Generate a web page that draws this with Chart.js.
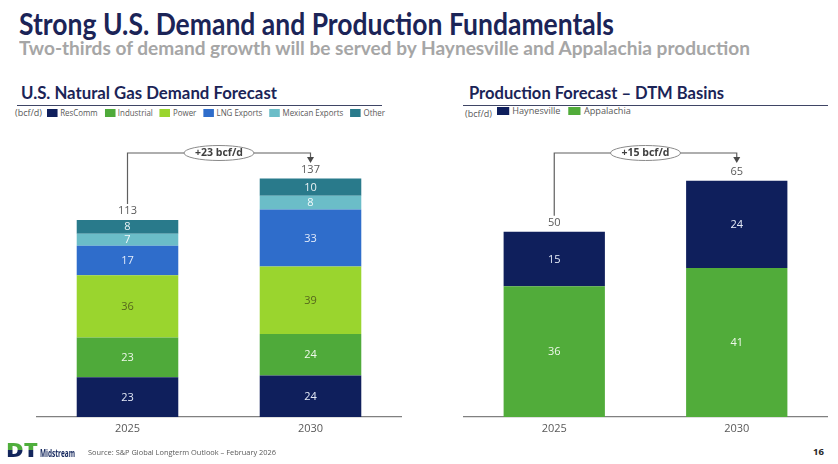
<!DOCTYPE html>
<html><head><meta charset="utf-8">
<script src="https://cdn.jsdelivr.net/npm/chart.js@4.4.1/dist/chart.umd.min.js"></script>
<style>
html,body{margin:0;padding:0;background:#fff;width:838px;height:464px;overflow:hidden;font-family:"Open Sans",sans-serif;}
.abs{position:absolute;white-space:nowrap;transform-origin:0 50%;}
.hd{font-family:Lato,"Open Sans",sans-serif;}
.legend{display:flex;align-items:center;color:#595959;font-size:9px;line-height:12px;}
.legend .sw{display:inline-block;width:12px;height:8px;margin-right:3px;}
.legend .it{display:flex;align-items:center;margin-right:8px;}
.rule{position:absolute;height:1.5px;background:#3f4565;}
.chartbox{position:absolute;}
</style></head><body>

<div class="abs fit hd" data-w="595" style="left:19px;top:6px;font-size:30px;line-height:34px;font-weight:700;color:#1b2457;">Strong U.S. Demand and Production Fundamentals</div>
<div class="abs fit hd" data-w="731" style="left:19px;top:37px;font-size:18.5px;line-height:22px;font-weight:700;color:#a6a6a6;">Two-thirds of demand growth will be served by Haynesville and Appalachia production</div>

<div class="abs fit hd" data-w="256" style="left:21px;top:82.5px;font-size:16.5px;line-height:20px;font-weight:700;color:#1b2457;">U.S. Natural Gas Demand Forecast</div>
<div class="abs fit hd" data-w="255" style="left:469px;top:82.5px;font-size:16.5px;line-height:20px;font-weight:700;color:#1b2457;">Production Forecast – DTM Basins</div>
<div class="rule" style="left:17px;top:104.5px;width:365px;"></div>
<div class="rule" style="left:463px;top:104.5px;width:365px;"></div>

<div class="abs" style="left:15px;top:107px;font-size:9px;line-height:12px;color:#595959;">(bcf/d)</div>
<div id="legendL" class="abs legend fit" data-w="345" style="left:47px;top:107px;"></div>
<div class="abs" style="left:465px;top:108px;font-size:9px;line-height:12px;color:#595959;">(bcf/d)</div>
<div id="legendR" class="abs legend fit" data-w="142" style="left:497px;top:104.5px;"></div>

<div class="chartbox" style="left:36px;top:130px;width:366px;height:315px;"><canvas id="c1"></canvas></div>
<div class="chartbox" style="left:463px;top:130px;width:365px;height:315px;"><canvas id="c2"></canvas></div>

<div class="abs fit" data-w="32" style="left:6px;top:442px;font-size:19px;line-height:16px;height:16px;font-weight:800;background:linear-gradient(to bottom,#4fae3c 0,#4fae3c 52%,#13265c 52%,#13265c 100%);-webkit-background-clip:text;background-clip:text;color:transparent;">DT</div>
<div class="abs fit" data-w="35" style="left:40px;top:447px;font-size:10px;line-height:12px;font-weight:700;color:#13265c;">Midstream</div>
<div class="abs fit" data-w="188" style="left:88px;top:446px;font-size:7.5px;line-height:12px;color:#595959;">Source: S&amp;P Global Longterm Outlook – February 2026</div>
<div class="abs" style="left:813px;top:446px;font-size:9.5px;line-height:12px;font-weight:700;color:#262626;">16</div>

<script>
// ---------- DATA ----------
const demandYears = ['2025', '2030'];
const demandSeries = ['ResComm', 'Industrial', 'Power', 'LNG Exports', 'Mexican Exports', 'Other'];
const resComm = [23, 24];
const industrial = [23, 24];
const power = [36, 39];
const lngExports = [17, 33];
const mexicanExports = [7, 8];
const otherDemand = [8, 10];
const demandTotals = [113, 137];
const demandGrowthLabel = '+23 bcf/d';

const productionYears = ['2025', '2030'];
const productionSeries = ['Haynesville', 'Appalachia'];
const haynesville = [15, 24];
const appalachia = [36, 41];
const productionTotals = [50, 65];
const productionGrowthLabel = '+15 bcf/d';

// ---------- STYLE ----------
const demandColors = ['#0f1f5c', '#4faa3a', '#9ad52e', '#2f6dcb', '#6bbdc8', '#297a8b'];
const demandLabelColors = ['#e3e9f6', '#eef8ea', '#55661c', '#e3ecfa', '#f2fafb', '#eaf3f5'];
const productionColors = ['#0f1f5c', '#51ac3a'];
const productionLabelColors = ['#e8edf8', '#eef8ea'];

function buildLegend(id, names, colors) {
  const el = document.getElementById(id);
  names.forEach((n, i) => {
    const it = document.createElement('span');
    it.className = 'it';
    const sw = document.createElement('span');
    sw.className = 'sw';
    sw.style.background = colors[i];
    it.appendChild(sw);
    it.appendChild(document.createTextNode(n));
    el.appendChild(it);
  });
}
buildLegend('legendL', demandSeries, demandColors);
buildLegend('legendR', productionSeries, productionColors);

const labelPlugin = {
  id: 'stackLabels',
  afterDatasetsDraw(chart, args, opts) {
    const ctx = chart.ctx;
    const xs = chart.scales.x;
    ctx.save();
    ctx.textAlign = 'center';
    ctx.textBaseline = 'middle';
    ctx.font = '11px "Open Sans"';
    chart.data.datasets.forEach((ds, i) => {
      const meta = chart.getDatasetMeta(i);
      meta.data.forEach((el, j) => {
        ctx.fillStyle = ds.labelColor;
        ctx.fillText(String(ds.data[j]), el.x, (el.y + el.base) / 2 + 0.5);
      });
    });
    const topMeta = chart.getDatasetMeta(chart.data.datasets.length - 1);
    ctx.fillStyle = '#595959';
    opts.totals.forEach((t, j) => {
      const el = topMeta.data[j];
      ctx.fillText(String(t), el.x, el.y - 9);
    });
    // growth connector
    const x0 = xs.getPixelForValue(0), x1 = xs.getPixelForValue(1);
    const top0 = topMeta.data[0].y;
    const lineY = chart.chartArea.top + 23;
    const tip = lineY + 10;
    ctx.strokeStyle = '#5f5f5f';
    ctx.lineWidth = 1.2;
    ctx.beginPath();
    ctx.moveTo(x0, top0 - 16);
    ctx.lineTo(x0, lineY);
    ctx.lineTo(x1, lineY);
    ctx.lineTo(x1, tip - 4);
    ctx.stroke();
    ctx.fillStyle = '#4a4a4a';
    ctx.beginPath();
    ctx.moveTo(x1 - 3.5, tip - 6);
    ctx.lineTo(x1 + 3.5, tip - 6);
    ctx.lineTo(x1, tip);
    ctx.closePath();
    ctx.fill();
    const cx = (x0 + x1) / 2;
    ctx.beginPath();
    ctx.ellipse(cx, lineY, 35, 7.5, 0, 0, Math.PI * 2);
    ctx.fillStyle = '#ffffff';
    ctx.fill();
    ctx.strokeStyle = '#8a8a8a';
    ctx.lineWidth = 1;
    ctx.stroke();
    ctx.font = 'bold 10.5px "Open Sans"';
    ctx.fillStyle = '#404040';
    ctx.fillText(opts.label, cx, lineY + 0.5);
    ctx.restore();
  }
};

function makeChart(id, labels, datasets, yMax, totals, growthLabel) {
  return new Chart(document.getElementById(id), {
    type: 'bar',
    data: { labels, datasets },
    plugins: [labelPlugin],
    options: {
      responsive: true,
      maintainAspectRatio: false,
      animation: false,
      layout: { padding: 0 },
      datasets: { bar: { categoryPercentage: 1, barPercentage: 0.555 } },
      scales: {
        x: {
          stacked: true,
          grid: { display: false, drawTicks: false },
          border: { display: true, color: '#808080', width: 1.2 },
          ticks: { color: '#595959', font: { family: 'Open Sans', size: 11 }, padding: 5 },
          afterFit(scale) { scale.height = 28; }
        },
        y: { stacked: true, display: false, min: 0, max: yMax }
      },
      plugins: {
        legend: { display: false },
        tooltip: { enabled: false },
        stackLabels: { totals, label: growthLabel }
      }
    }
  });
}

const demandValues = [resComm, industrial, power, lngExports, mexicanExports, otherDemand];
makeChart('c1', demandYears, demandSeries.map((n, i) => ({
  label: n, data: demandValues[i], backgroundColor: demandColors[i], labelColor: demandLabelColors[i], borderWidth: 0
})), 166, demandTotals, demandGrowthLabel);

// Appalachia stacked at the bottom, Haynesville on top
makeChart('c2', productionYears, [
  { label: productionSeries[1], data: appalachia, backgroundColor: productionColors[1], labelColor: productionLabelColors[1], borderWidth: 0 },
  { label: productionSeries[0], data: haynesville, backgroundColor: productionColors[0], labelColor: productionLabelColors[0], borderWidth: 0 }
], 79, productionTotals, productionGrowthLabel);

function fitAll() {
  document.querySelectorAll('.fit').forEach(el => {
    el.style.transform = 'none';
    const w = el.getBoundingClientRect().width;
    el.style.transform = 'scaleX(' + (parseFloat(el.dataset.w) / w) + ')';
  });
}
fitAll();
if (document.fonts && document.fonts.ready) document.fonts.ready.then(fitAll);
</script>
</body></html>
